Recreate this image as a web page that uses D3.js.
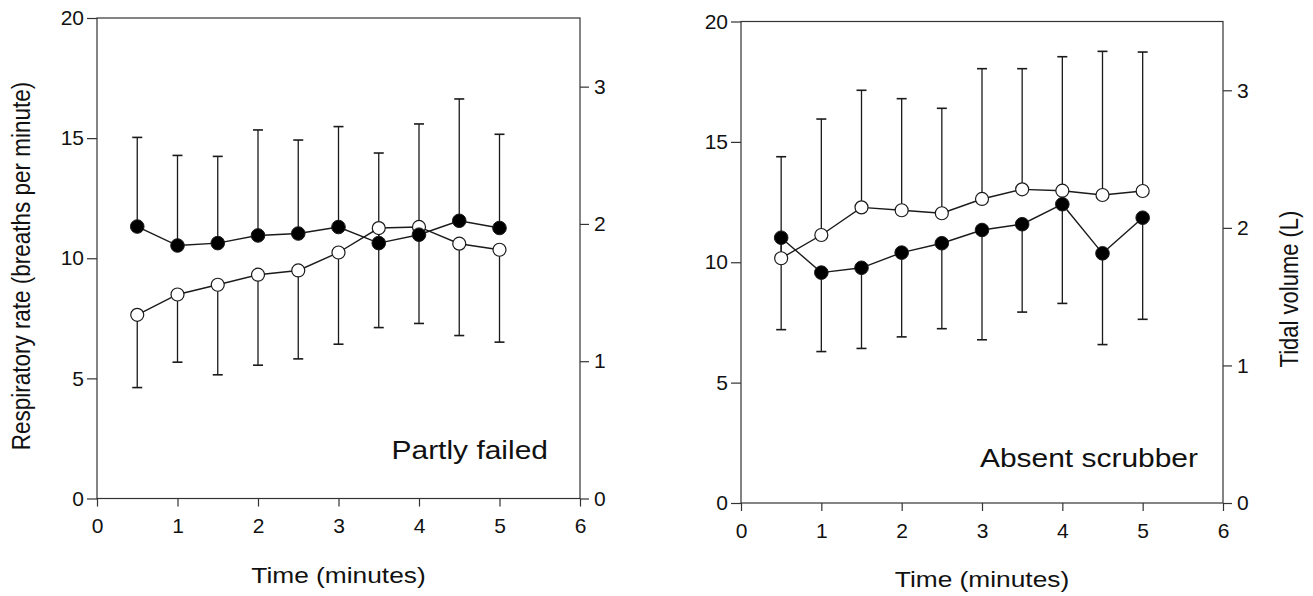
<!DOCTYPE html>
<html>
<head>
<meta charset="utf-8">
<script src="https://cdn.jsdelivr.net/npm/d3@7"></script>
<style>
  html, body { margin: 0; padding: 0; background: #fff; }
  svg { display: block; }
  text { font-family: "Liberation Sans", Arial, sans-serif; fill: #111; }
</style>
</head>
<body>
<svg id="chart" width="1313" height="596"></svg>
<script>
// ---- data ----
const times = [0.5, 1, 1.5, 2, 2.5, 3, 3.5, 4, 4.5, 5];

// Partly failed panel
const partlyRR   = [11.32, 10.53, 10.63, 10.95, 11.03, 11.30, 10.63, 10.98, 11.56, 11.26];
const partlyRRsd = [3.71, 3.75, 3.61, 4.39, 3.89, 4.18, 3.75, 4.61, 5.07, 3.90];
const partlyTV   = [1.338, 1.486, 1.557, 1.630, 1.661, 1.792, 1.970, 1.978, 1.856, 1.812];
const partlyTVsd = [0.530, 0.493, 0.656, 0.659, 0.644, 0.668, 0.725, 0.703, 0.669, 0.673];

// Absent scrubber panel
const absentRR   = [11.02, 9.57, 9.77, 10.40, 10.79, 11.34, 11.58, 12.41, 10.37, 11.85];
const absentRRsd = [3.82, 3.28, 3.35, 3.50, 3.55, 4.56, 3.65, 4.12, 3.79, 4.22];
const absentTV   = [1.779, 1.948, 2.149, 2.128, 2.106, 2.210, 2.280, 2.270, 2.239, 2.268];
const absentTVsd = [0.738, 0.843, 0.851, 0.811, 0.763, 0.947, 0.877, 0.974, 1.044, 1.010];

const xTicks      = [0, 1, 2, 3, 4, 5, 6];
const yLeftTicks  = [0, 5, 10, 15, 20];
const yRightTicks = [0, 1, 2, 3];

const panelTitles = ["Partly failed", "Absent scrubber"];
const xTitle = "Time (minutes)";
const yLeftTitle = "Respiratory rate (breaths per minute)";
const yRightTitle = "Tidal volume (L)";

// ---- layout ----
const panels = [
  { x0: 97,  x1: 580,  yTop: 18,   yBot: 498.5, rr: partlyRR, rrSd: partlyRRsd, tv: partlyTV, tvSd: partlyTVsd,
    rrDir: 1, tvDir: -1, title: panelTitles[0], titleX: 548, titleY: 459, leftTitle: true, rightTitle: false },
  { x0: 741, x1: 1223, yTop: 21.5, yBot: 503,   rr: absentRR, rrSd: absentRRsd, tv: absentTV, tvSd: absentTVsd,
    rrDir: -1, tvDir: 1, title: panelTitles[1], titleX: 1198, titleY: 467, leftTitle: false, rightTitle: true }
];

const svg = d3.select("#chart");
const ink = "#1a1a1a";
const stretch = 1.17;

// text helper: positioned, horizontally stretched, optionally rotated
function label(g, x, y, str, size, anchor, rot) {
  return g.append("text")
    .attr("transform", `translate(${x},${y}) scale(${stretch},1)` + (rot ? ` rotate(${rot})` : ""))
    .attr("text-anchor", anchor).attr("font-size", size).text(str);
}

panels.forEach(p => {
  const x  = d3.scaleLinear().domain([0, 6]).range([p.x0, p.x1]);
  const yL = d3.scaleLinear().domain([0, 20]).range([p.yBot, p.yTop]);
  const yR = d3.scaleLinear().domain([0, 3.5]).range([p.yBot, p.yTop]);
  const g = svg.append("g");

  // frame
  g.append("rect").attr("x", p.x0).attr("y", p.yTop)
    .attr("width", p.x1 - p.x0).attr("height", p.yBot - p.yTop)
    .attr("fill", "none").attr("stroke", "#333").attr("stroke-width", 1.2);

  // axes
  const styleAxis = sel => {
    sel.select(".domain").remove();
    sel.selectAll(".tick line").attr("stroke", "#333").attr("stroke-width", 1.2);
    sel.selectAll(".tick text").attr("font-size", 21).attr("fill", ink)
      .style("font-family", '"Liberation Sans", Arial, sans-serif');
  };
  g.append("g").attr("transform", `translate(0,${p.yBot})`)
    .call(d3.axisBottom(x).tickValues(xTicks).tickFormat(d3.format("d")).tickSize(8).tickPadding(12))
    .call(styleAxis);
  g.append("g").attr("transform", `translate(${p.x0},0)`)
    .call(d3.axisLeft(yL).tickValues(yLeftTicks).tickFormat(d3.format("d")).tickSize(10).tickPadding(3))
    .call(styleAxis);
  g.append("g").attr("transform", `translate(${p.x1},0)`)
    .call(d3.axisRight(yR).tickValues(yRightTicks).tickFormat(d3.format("d")).tickSize(9).tickPadding(5))
    .call(styleAxis);

  // axis titles
  label(g, (p.x0 + p.x1) / 2, p.yBot + 84, xTitle, 22.5, "middle");
  if (p.leftTitle) label(g, 30, 266, yLeftTitle, 22.5, "middle", -90);
  if (p.rightTitle) label(g, 1298, 289, yRightTitle, 22, "middle", -90);

  // panel label
  label(g, p.titleX, p.titleY, p.title, 25.6, "end");

  // error bars (one-sided)
  const capW = 5;
  const drawBars = (vals, sds, dir, y) => {
    const eb = g.append("g").attr("stroke", ink).attr("stroke-width", 1.3);
    times.forEach((t, i) => {
      const end = vals[i] + dir * sds[i];
      eb.append("line").attr("x1", x(t)).attr("x2", x(t)).attr("y1", y(vals[i])).attr("y2", y(end));
      eb.append("line").attr("x1", x(t) - capW).attr("x2", x(t) + capW).attr("y1", y(end)).attr("y2", y(end))
        .attr("stroke-width", 1.6);
    });
  };
  drawBars(p.rr, p.rrSd, p.rrDir, yL);
  drawBars(p.tv, p.tvSd, p.tvDir, yR);

  // lines
  const lineRR = d3.line().x((d, i) => x(times[i])).y(d => yL(d));
  const lineTV = d3.line().x((d, i) => x(times[i])).y(d => yR(d));
  g.append("path").datum(p.tv).attr("d", lineTV).attr("fill", "none").attr("stroke", ink).attr("stroke-width", 1.4);
  g.append("path").datum(p.rr).attr("d", lineRR).attr("fill", "none").attr("stroke", ink).attr("stroke-width", 1.4);

  // markers
  g.append("g").selectAll("circle").data(p.tv).join("circle")
    .attr("cx", (d, i) => x(times[i])).attr("cy", d => yR(d)).attr("r", 6.5)
    .attr("fill", "#fff").attr("stroke", ink).attr("stroke-width", 1.2);
  g.append("g").selectAll("circle").data(p.rr).join("circle")
    .attr("cx", (d, i) => x(times[i])).attr("cy", d => yL(d)).attr("r", 6.8)
    .attr("fill", "#000").attr("stroke", ink).attr("stroke-width", 1);
});
</script>
</body>
</html>
